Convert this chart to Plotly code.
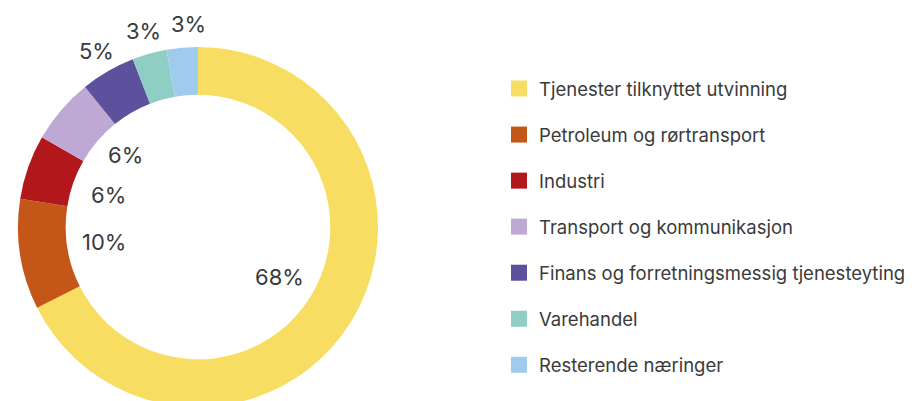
import math
import plotly.graph_objects as go

categories = [
    "Tjenester tilknyttet utvinning",
    "Petroleum og rørtransport",
    "Industri",
    "Transport og kommunikasjon",
    "Finans og forretningsmessig tjenesteyting",
    "Varehandel",
    "Resterende næringer",
]
values = [67.6, 9.9, 5.8, 5.9, 4.9, 3.1, 2.8]
colors = ["#F8DD63", "#C45718", "#B2181B", "#BDA9D3", "#5D519E", "#8ECEC4", "#9FCBEC"]

W, H = 919, 401
CX, CY, R = 190, 219, 180  # pie centre / radius in px (figure coords, from top-left)
HOLE = 0.735
FONT = "Inter"
TXT = "#3a3a3a"

fig = go.Figure()
fig.add_trace(go.Pie(
    labels=categories, values=values, sort=False, direction="clockwise", rotation=0,
    hole=HOLE, textinfo="none", hoverinfo="label+percent",
    marker=dict(colors=colors, line=dict(width=0)),
    showlegend=False,
    domain=dict(x=[(CX - R) / W, (CX + R) / W], y=[(H - CY - R) / H, (H - CY + R) / H]),
))

# legend entries
for cat, col in zip(categories, colors):
    fig.add_trace(go.Scatter(
        x=[None], y=[None], mode="markers", name=cat, legendgroup=cat,
        marker=dict(symbol="square", size=16, color=col),
    ))

# percentage labels computed from the values (inside the hole for large slices,
# outside the ring for small ones, with simple collision avoidance)
total = sum(values)
cum = 0.0
placed_in, placed_out = [], []
annotations = []
MIN_GAP_Y = 40
MIN_GAP_X = 45
for v in values:
    pct = v / total
    mid = (cum + pct / 2) * 2 * math.pi
    cum += pct
    inside = pct >= 0.055
    r = R * (0.53 if inside else 1.13)
    px = CX + r * math.sin(mid)
    py = CY - r * math.cos(mid)
    if inside:
        for qx, qy in placed_in:
            if abs(px - qx) < 70 and abs(py - qy) < MIN_GAP_Y:
                py = qy - MIN_GAP_Y if py < qy else qy + MIN_GAP_Y
        placed_in.append((px, py))
    else:
        for qx, qy in placed_out:
            if abs(px - qx) < MIN_GAP_X and abs(py - qy) < 25:
                px = qx + MIN_GAP_X if px > qx else qx - MIN_GAP_X
        placed_out.append((px, py))
    annotations.append(dict(
        x=px / W, y=(H - py) / H, xref="paper", yref="paper",
        text=f"{round(pct * 100)}%", showarrow=False,
        font=dict(family=FONT, size=22, color=TXT), xanchor="center", yanchor="middle",
    ))

fig.update_layout(
    width=W, height=H,
    margin=dict(l=0, r=0, t=0, b=0),
    paper_bgcolor="white", plot_bgcolor="white",
    xaxis=dict(visible=False), yaxis=dict(visible=False),
    annotations=annotations,
    legend=dict(
        x=491 / W, y=(H - 62) / H, xanchor="left", yanchor="top",
        font=dict(family=FONT, size=18.5, color=TXT),
        itemsizing="trace", tracegroupgap=19, traceorder="grouped",
        bgcolor="rgba(0,0,0,0)",
    ),
)

fig.write_html("out.html")
